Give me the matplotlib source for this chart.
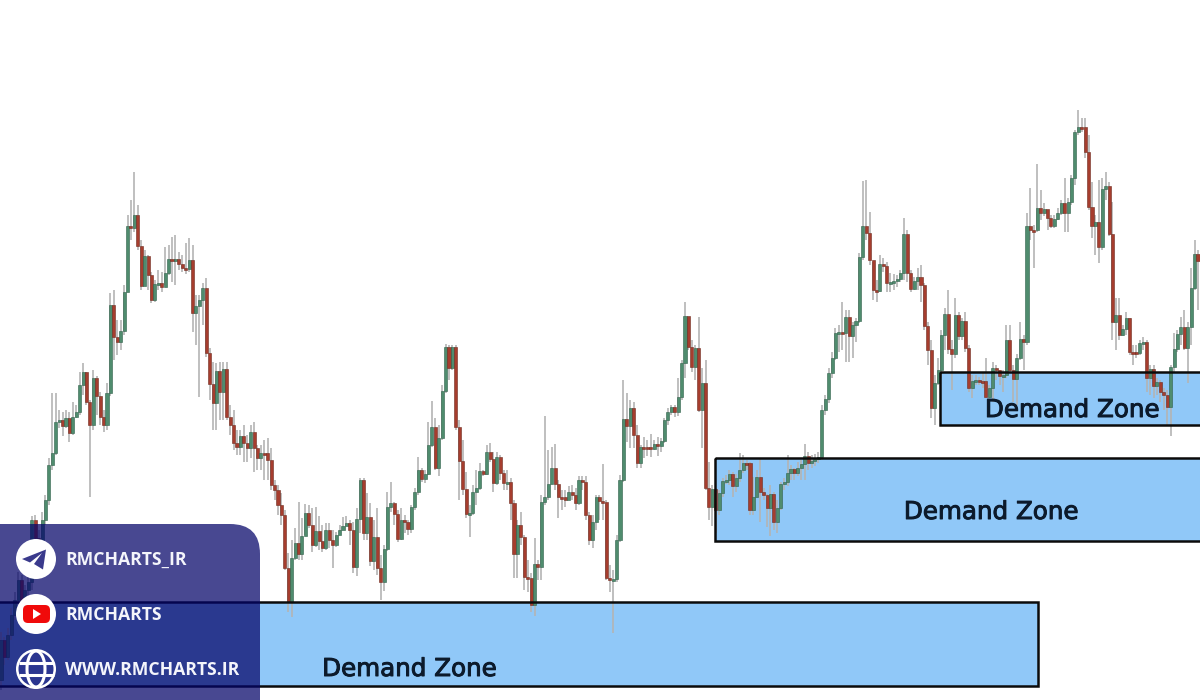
import matplotlib
matplotlib.use("Agg")
import matplotlib.pyplot as plt
import matplotlib.patheffects as pe
from matplotlib.patches import Rectangle, Circle, Ellipse, Polygon, FancyBboxPatch, PathPatch
from matplotlib.path import Path

# readings are on a downward-growing level scale (axis is inverted)
first_open = 680
closes = [
 640,657,635,615,600,580,600,590,582,520,
 538,540,520,500,465,453,422,420,426,418,
 433,417,412,385,372,402,425,378,396,417,
 425,393,305,337,342,331,292,226,228,215,
 246,286,256,275,300,284,283,287,273,259,
 260,259,264,268,269,260,313,306,300,288,
 353,384,403,371,392,369,417,425,443,447,
 436,443,448,432,448,458,453,453,460,485,
 490,505,515,568,602,558,543,554,536,513,
 525,545,531,541,548,530,540,545,535,530,
 526,523,530,567,519,480,533,517,561,537,
 568,582,549,507,503,514,539,520,522,529,
 507,492,470,479,474,445,427,468,438,391,
 347,368,347,427,461,489,514,513,492,488,
 471,474,452,459,483,457,473,483,482,503,
 554,525,537,577,578,605,564,567,502,497,484,
 468,484,497,497,500,492,495,503,480,
 482,515,540,522,497,501,502,578,580,579,
 540,480,419,426,408,435,463,447,447,447,449,
 444,446,441,420,412,407,412,397,363,316,
 347,367,348,410,383,488,507,489,510,493,
 481,480,474,486,478,470,463,463,510,
 497,477,492,495,508,494,522,508,484,482,
 473,469,473,468,464,456,463,461,459,457,
 410,399,373,358,333,332,333,317,336,325,
 321,257,226,233,260,290,291,264,266,283,
 282,281,279,273,234,273,289,281,277,285,
 326,350,408,383,370,335,314,349,354,315,
 336,321,348,388,381,380,381,381,397,388,
 368,370,376,375,340,370,379,358,339,
 342,226,230,230,208,213,209,218,226,219,
 213,203,213,202,178,132,127,127,152,207,
 226,222,247,189,186,234,322,315,335,329,
 318,352,352,353,343,342,378,369,386,382,
 392,395,407,367,349,334,327,348,327,288,
 254,261,
]
highs = [
 632,637,628,608,592,572,575,585,575,516,
 515,530,512,495,458,393,393,410,412,410,
 412,402,405,372,363,372,400,370,376,392,
 410,383,293,290,320,320,285,215,200,172,
 205,240,250,255,272,280,270,272,247,245,
 237,235,252,255,243,238,245,295,295,283,
 278,348,362,363,362,362,362,405,410,430,
 430,425,435,425,422,445,445,440,438,448,
 480,485,493,510,553,540,528,502,518,504,
 505,508,507,516,525,523,523,530,532,525,
 517,516,520,522,508,478,478,493,503,520,
 508,555,545,492,482,502,510,508,515,520,
 505,488,457,468,470,422,401,418,425,385,
 344,345,345,345,420,440,472,505,485,470,
 463,470,445,443,452,452,455,470,470,478,
 500,520,512,535,560,573,538,560,495,416,450,
 447,444,480,490,490,486,485,488,476,
 476,476,512,515,495,495,464,500,565,570,
 535,475,380,393,400,402,425,445,437,440,434,
 440,437,438,418,408,405,405,378,360,302,
 318,340,345,317,368,360,462,485,488,490,
 478,475,470,472,474,453,455,460,462,
 477,470,458,488,494,485,492,500,482,478,
 455,465,468,462,460,444,452,455,454,452,
 405,395,368,352,328,325,302,310,310,322,
 318,253,181,180,212,262,280,255,258,262,
 273,274,275,270,218,230,270,277,268,265,
 283,322,340,375,358,330,308,290,340,298,
 312,318,312,345,375,375,377,372,358,385,
 362,365,370,370,325,325,365,354,322,
 335,213,188,225,164,190,203,210,215,215,
 208,200,178,198,175,130,110,118,118,135,
 182,215,180,178,172,182,202,298,298,325,
 312,318,345,345,340,337,340,365,365,378,
 380,388,390,365,333,330,317,310,322,268,
 240,250,
]
lows = [
 690,665,660,640,620,605,608,605,595,590,
 545,548,545,525,505,470,455,428,436,428,
 442,435,418,415,395,405,497,430,415,425,
 432,430,396,360,355,350,335,255,240,232,
 250,290,280,290,303,302,290,292,285,275,
 282,285,270,272,274,272,332,345,397,325,
 357,400,430,430,420,420,420,435,450,455,
 455,462,462,458,472,470,470,480,480,490,
 500,515,525,570,612,617,560,560,560,535,
 528,552,547,550,552,550,548,568,547,535,
 530,526,545,573,576,533,540,540,566,570,
 575,600,591,551,512,525,542,540,533,535,
 533,510,495,482,483,475,447,470,476,440,
 393,380,370,430,500,495,518,537,515,505,
 490,476,475,462,492,485,480,490,490,520,
 578,578,545,590,592,612,616,580,580,505,500,
 470,490,518,510,507,498,500,510,505,
 490,520,545,548,530,520,520,580,592,633,
 582,542,482,442,448,448,468,468,458,456,457,
 450,456,452,443,425,415,417,416,400,378,
 350,372,380,412,448,490,520,526,533,515,
 497,484,485,497,492,482,473,470,515,
 515,490,522,500,527,536,530,533,510,490,
 486,480,480,476,480,480,470,468,466,463,
 460,415,403,378,360,352,350,362,362,358,
 342,323,260,240,265,300,302,292,272,292,
 292,290,287,282,280,282,292,290,290,302,
 330,365,418,425,385,378,350,354,390,358,
 340,340,352,392,398,385,385,388,398,400,
 402,380,385,392,378,372,402,405,360,
 370,345,240,268,232,220,216,230,228,228,
 220,215,232,232,205,185,135,132,158,210,
 238,255,263,250,200,236,340,350,340,336,
 335,355,365,358,355,350,392,395,398,395,
 402,410,425,436,372,352,345,350,383,345,
 290,310,
]

zone_left = [-1, 208.9, 274.6]
zone_right = [303.3, 352, 352]
zone_top = [602, 458, 372]
zone_bottom = [686, 541, 425]
zone_label_x = [93.9, 264.0, 287.7]
zone_label_y = [669, 512, 410]
zone_label = "Demand Zone"

panel_lines = ["RMCHARTS_IR", "RMCHARTS", "WWW.RMCHARTS.IR"]
panel_line_y = [559, 614, 669]

assert len(closes) == len(highs) == len(lows), (len(closes), len(highs), len(lows))

STEP = 3.42
OFFSET = 1.0
fig = plt.figure(figsize=(12, 7), dpi=100)
ax = fig.add_axes([0, 0, 1, 1])
ax.set_xlim(-OFFSET / STEP, (1200 - OFFSET) / STEP)
ax.set_ylim(700, 0)
ax.axis("off")

GREEN, RED = "#4f8c6e", "#a63d2e"
EDGE_G, EDGE_R = "#2f5f49", "#6e2a1e"
WICK = "#b4b4b4"

for l, r, t, b in zip(zone_left, zone_right, zone_top, zone_bottom):
    ax.add_patch(Rectangle((l, t), r - l, b - t, facecolor="#90c8f8", edgecolor="none", zorder=1))

opens = [first_open] + closes[:-1]
ax.vlines(range(len(closes)), highs, lows, color=WICK, lw=1.2, zorder=3)
for i, (o, c) in enumerate(zip(opens, closes)):
    up = c < o
    top, bot = min(o, c), max(o, c)
    if bot - top < 1.5:
        bot = top + 1.5
    ax.add_patch(Rectangle((i - 0.45, top), 0.9, bot - top,
                           facecolor=GREEN if up else RED,
                           edgecolor=EDGE_G if up else EDGE_R, lw=0.4, zorder=4))

for l, r, t, b in zip(zone_left, zone_right, zone_top, zone_bottom):
    ax.add_patch(Rectangle((l, t), r - l, b - t, facecolor="none", edgecolor="#0b0b0b", lw=1.8, zorder=5))

for x, y in zip(zone_label_x, zone_label_y):
    ax.text(x, y, zone_label, fontsize=17.7, family="DejaVu Sans", color="#0c1a2b",
            ha="left", va="center", zorder=6,
            path_effects=[pe.withStroke(linewidth=0.7, foreground="#0c1a2b")])

# overlay in image pixels: branded panel
ov = fig.add_axes([0, 0, 1, 1], facecolor="none")
ov.set_xlim(0, 1200)
ov.set_ylim(700, 0)
ov.axis("off")
R = 30
verts = [(0, 700), (0, 524), (260 - R, 524), (260, 524), (260, 524 + R), (260, 700), (0, 700)]
codes = [Path.MOVETO, Path.LINETO, Path.LINETO, Path.CURVE3, Path.CURVE3, Path.LINETO, Path.CLOSEPOLY]
ov.add_patch(PathPatch(Path(verts, codes), facecolor="#040469", alpha=0.73, edgecolor="none", zorder=1))

DARK = "#3a3a8c"
for y in panel_line_y:
    ov.add_patch(Circle((36, y), 20, facecolor="white", edgecolor="none", zorder=2))
for s, y in zip(panel_lines, panel_line_y):
    ov.text(65, y + 1, s, fontsize=12.7, family="Open Sans", fontweight="bold", color="#f4f5fb",
            ha="left", va="center", zorder=3)

# telegram glyph
ov.add_patch(Polygon([(46, 549.5), (22, 559), (30, 562.5), (42, 553), (34, 564), (43, 569.5)],
                     closed=True, facecolor=DARK, edgecolor="none", zorder=3))
# youtube glyph
ov.add_patch(FancyBboxPatch((26, 608), 21, 12, boxstyle="round,pad=3,rounding_size=5",
                            facecolor="#f00a0a", edgecolor="none", zorder=3))
ov.add_patch(Polygon([(33, 609), (33, 619), (41, 614)], closed=True, facecolor="white", zorder=4))
# globe glyph
gy = panel_line_y[2]
ov.add_patch(Circle((36, gy), 17.5, facecolor="#2b3690", edgecolor="none", zorder=3))
ov.add_patch(Ellipse((36, gy), 18, 36, facecolor="none", edgecolor="white", lw=2.2, zorder=4))
ov.plot([18.5, 53.5], [gy - 6, gy - 6], color="white", lw=2.2, zorder=4, solid_capstyle="butt")
ov.plot([18.5, 53.5], [gy + 6, gy + 6], color="white", lw=2.2, zorder=4, solid_capstyle="butt")

fig.savefig("out.png", dpi=100, facecolor="white")
